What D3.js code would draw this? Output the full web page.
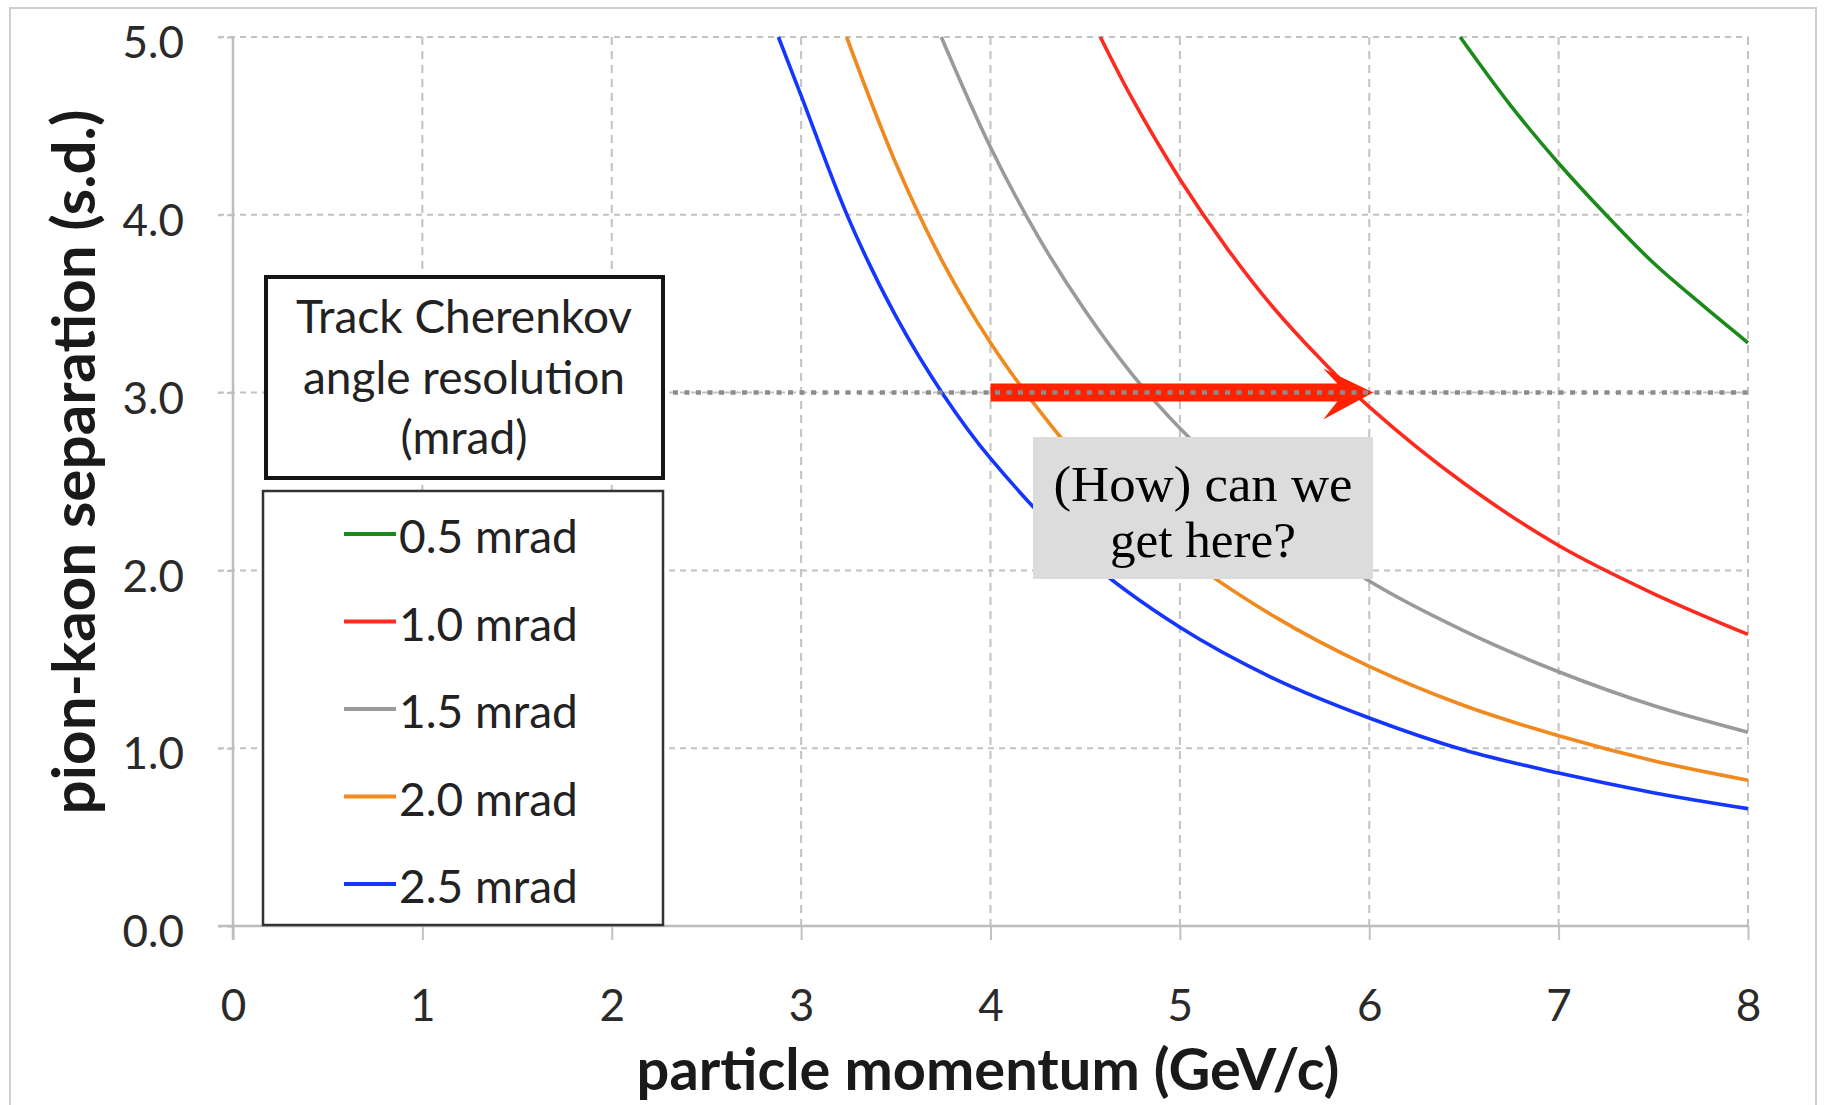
<!DOCTYPE html>
<html><head><meta charset="utf-8">
<script src="https://cdn.jsdelivr.net/npm/d3@7"></script>
<style>html,body{margin:0;padding:0;background:#fff;overflow:hidden}</style>
</head><body><svg id="c" width="1825" height="1105"></svg>
<script>
// ---- data ----
const xTicks = [0,1,2,3,4,5,6,7,8];
const yTicks = [0,1,2,3,4,5];
const seriesNames = ["0.5 mrad","1.0 mrad","1.5 mrad","2.0 mrad","2.5 mrad"];
const seriesColors = ["#1a8a1a","#ff2a1f","#9a9a9a","#f0891e","#1536ff"];
const p05 = [6.48,6.75,7.0,7.25,7.5,7.75,8.0];
const s05 = [5.0,4.61,4.29,4.00,3.73,3.50,3.28];
const p10 = [4.58,4.75,5.0,5.25,5.5,5.75,6.0,6.5,7.0,7.5,8.0];
const s10 = [5.0,4.65,4.20,3.81,3.47,3.18,2.92,2.49,2.14,1.87,1.64];
const p15 = [3.74,4.0,4.25,4.5,4.75,5.0,5.5,6.0,6.5,7.0,7.5,8.0];
const s15 = [5.0,4.38,3.88,3.46,3.10,2.80,2.31,1.94,1.66,1.43,1.24,1.09];
const p20 = [3.24,3.5,3.75,4.0,4.25,4.5,5.0,5.5,6.0,6.5,7.0,7.5,8.0];
const s20 = [5.0,4.29,3.73,3.28,2.91,2.59,2.10,1.74,1.46,1.24,1.07,0.93,0.82];
const p25 = [2.88,3.0,3.25,3.5,3.75,4.0,4.5,5.0,5.5,6.0,6.5,7.0,7.5,8.0];
const s25 = [5.0,4.67,3.98,3.43,2.99,2.63,2.07,1.68,1.39,1.17,0.99,0.86,0.75,0.66];
const legendTitle = ["Track Cherenkov","angle resolution","(mrad)"];
const noteLines = ["(How) can we","get here?"];
const arrowFrom = 4.0, arrowTo = 6.0, arrowLevel = 3.0;
const xTitle = "particle momentum (GeV/c)";
const yTitle = "pion-kaon separation (s.d.)";

const series = [[p05,s05],[p10,s10],[p15,s15],[p20,s20],[p25,s25]].map((d,i)=>({
  name: seriesNames[i], color: seriesColors[i],
  pts: d[0].map((p,j)=>({x:p, y:d[1][j]}))
}));

const svg = d3.select("#c");
const FONT = "Lato, 'Open Sans', sans-serif";
const x = d3.scaleLinear().domain([0,8]).range([233,1748]);
const y = d3.scaleLinear().domain([0,5]).range([926,37]);

function fitWidth(sel, target){
  const w = sel.node().getComputedTextLength();
  const fs = parseFloat(sel.attr("font-size"));
  sel.attr("font-size", fs*target/w);
}

// outer frame
svg.append("rect").attr("x",10).attr("y",8).attr("width",1806).attr("height",1120)
  .attr("fill","#fff").attr("stroke","#cfcfcf").attr("stroke-width",2);

// gridlines
const grid = svg.append("g");
grid.selectAll("line.h").data(yTicks.filter(d=>d>0)).join("line")
  .attr("x1", x(0)-15).attr("x2", x(8)).attr("y1", d=>y(d)).attr("y2", d=>y(d))
  .attr("stroke","#c2c2c2").attr("stroke-width",2).attr("stroke-dasharray","6,5");
grid.selectAll("line.v").data(xTicks.filter(d=>d>0)).join("line")
  .attr("x1", d=>x(d)).attr("x2", d=>x(d)).attr("y1", y(5)).attr("y2", y(0))
  .attr("stroke","#c2c2c2").attr("stroke-width",2).attr("stroke-dasharray","8,6");

// axes
const xAxis = svg.append("g").attr("transform",`translate(0,${y(0)})`)
  .call(d3.axisBottom(x).tickValues(xTicks).tickSize(14).tickPadding(50).tickFormat(d3.format("d")));
xAxis.select(".domain").remove();
xAxis.selectAll(".tick line").attr("stroke","#c2c2c2").attr("stroke-width",2);
xAxis.selectAll(".tick text").attr("font-family",FONT).attr("font-size",44).attr("fill","#2a2a2a");

const yAxis = svg.append("g").attr("transform",`translate(${x(0)},0)`)
  .call(d3.axisLeft(y).tickValues(yTicks).tickSize(15).tickPadding(34).tickFormat(d3.format(".1f")));
yAxis.select(".domain").remove();
yAxis.selectAll(".tick line").attr("stroke","#c2c2c2").attr("stroke-width",2).attr("stroke-dasharray","6,5");
yAxis.selectAll(".tick text").attr("font-family",FONT).attr("font-size",44).attr("fill","#2a2a2a").attr("dy","0.47em");

svg.append("line").attr("x1",x(0)).attr("x2",x(0)).attr("y1",y(5)).attr("y2",y(0)+14)
  .attr("stroke","#bdbdbd").attr("stroke-width",2.5);
svg.append("line").attr("x1",x(0)-15).attr("x2",x(8)).attr("y1",y(0)).attr("y2",y(0))
  .attr("stroke","#bdbdbd").attr("stroke-width",2.5);

// curves
const line = d3.line().x(d=>x(d.x)).y(d=>y(d.y)).curve(d3.curveCatmullRom.alpha(0.5));
svg.append("g").selectAll("path").data(series).join("path")
  .attr("d", d=>line(d.pts)).attr("fill","none").attr("stroke",d=>d.color)
  .attr("stroke-width",3.6).attr("stroke-linecap","butt");

// legend title box
svg.append("rect").attr("x",266).attr("y",277).attr("width",397).attr("height",201)
  .attr("fill","#fff").attr("stroke","#141414").attr("stroke-width",4);
const ltBase = [333,394,454];
legendTitle.forEach((t,i)=>{
  svg.append("text").attr("x",464).attr("y",ltBase[i]).attr("text-anchor","middle")
    .attr("font-family",FONT).attr("font-size",46).attr("fill","#222").text(t);
});

// legend items box
svg.append("rect").attr("x",263).attr("y",491).attr("width",400).attr("height",434)
  .attr("fill","#fff").attr("stroke","#333").attr("stroke-width",2.5);
const lg = svg.append("g").selectAll("g").data(series).join("g")
  .attr("transform",(d,i)=>`translate(0,${553+i*87.5})`);
lg.append("line").attr("x1",344).attr("x2",396).attr("y1",-19).attr("y2",-19)
  .attr("stroke",d=>d.color).attr("stroke-width",3.8);
lg.append("text").attr("x",399).attr("y",0).attr("font-family",FONT).attr("font-size",46)
  .attr("fill","#222").text(d=>d.name);

// annotation box
svg.append("rect").attr("x",1033).attr("y",437).attr("width",340).attr("height",142).attr("fill","#dcdcdc");
const noteBase = [501,557];
const noteW = [299,186];
noteLines.forEach((t,i)=>{
  svg.append("text").attr("x",1203).attr("y",noteBase[i]).attr("text-anchor","middle")
    .attr("font-family","'Liberation Serif','Times New Roman',serif").attr("font-size",50)
    .attr("textLength",noteW[i]).attr("lengthAdjust","spacingAndGlyphs")
    .attr("fill","#000").text(t);
});

// red arrow
const ax0 = x(arrowFrom), ax1 = x(arrowTo), ay = y(arrowLevel);
const xb = ax1 - 46;
const arrowPts = [[ax0,ay-9],[xb+14,ay-9],[xb,ay-24],[ax1+4,ay],[xb,ay+27],[xb+14,ay+9],[ax0,ay+9]];
svg.append("path").attr("d", d3.line()(arrowPts)+"Z").attr("fill","#ff2200");

// dotted 3.0 reference line on top
svg.append("line").attr("x1",673).attr("x2",x(8)).attr("y1",y(arrowLevel)).attr("y2",y(arrowLevel))
  .attr("stroke","#8c8c8c").attr("stroke-width",4.5).attr("stroke-dasharray","5,6.5");

// axis titles
const xt = svg.append("text").attr("x",988).attr("y",1090).attr("text-anchor","middle")
  .attr("font-family",FONT).attr("font-weight","bold").attr("font-size",56).attr("fill","#1a1a1a").text(xTitle);
fitWidth(xt, 703);
const yt = svg.append("text").attr("transform","translate(95,462) rotate(-90)").attr("text-anchor","middle")
  .attr("font-family",FONT).attr("font-weight","bold").attr("font-size",56).attr("fill","#1a1a1a").text(yTitle);
fitWidth(yt, 705);
</script></body></html>
